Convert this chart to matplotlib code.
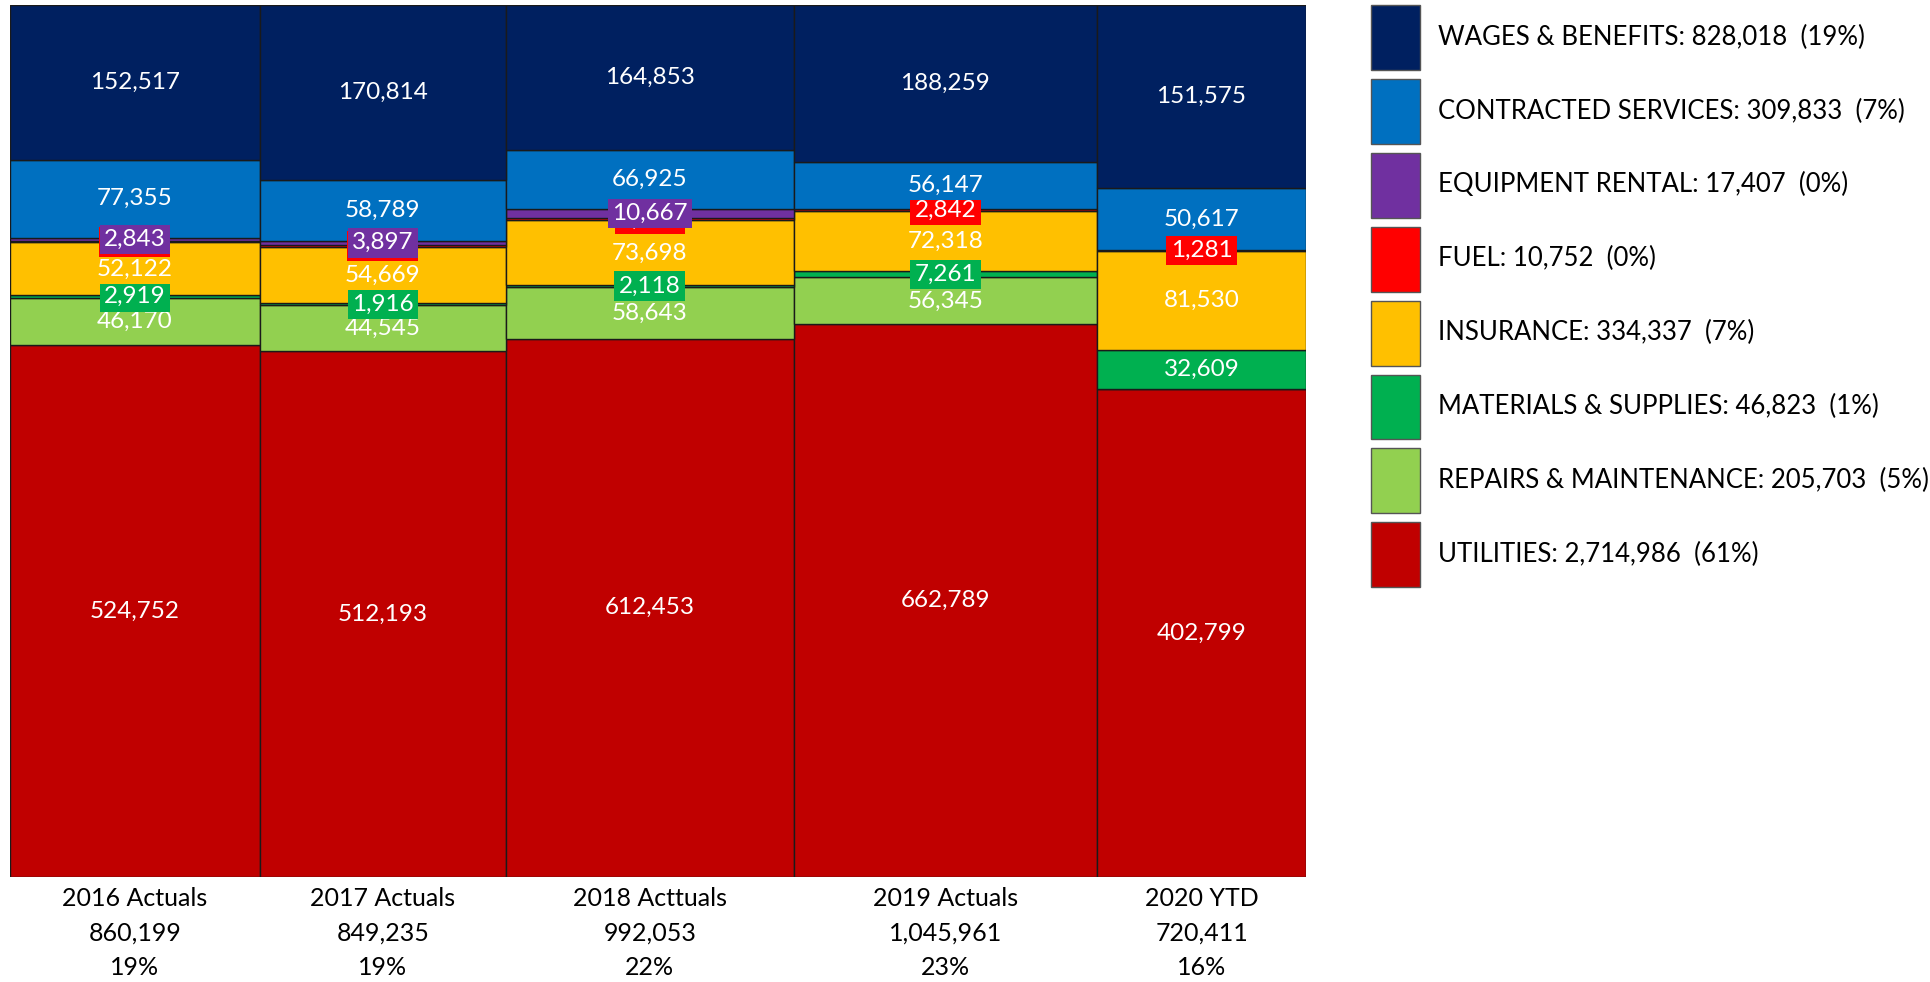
"""Marimekko chart of operating costs by year and category."""
import numpy as np
import matplotlib.pyplot as plt

years = ["2016 Actuals", "2017 Actuals", "2018 Acttuals", "2019 Actuals", "2020 YTD"]

# stacking order, bottom to top
categories = [
    "UTILITIES",
    "REPAIRS & MAINTENANCE",
    "MATERIALS & SUPPLIES",
    "INSURANCE",
    "FUEL",
    "EQUIPMENT RENTAL",
    "CONTRACTED SERVICES",
    "WAGES & BENEFITS",
]
utilities = [524752, 512193, 612453, 662789, 402799]
repairs = [46170, 44545, 58643, 56345, 0]
materials = [2919, 1916, 2118, 7261, 32609]
insurance = [52122, 54669, 73698, 72318, 81530]
fuel = [1521, 2412, 2696, 2842, 1281]
equipment = [2843, 3897, 10667, 0, 0]
contracted = [77355, 58789, 66925, 56147, 50617]
wages = [152517, 170814, 164853, 188259, 151575]

colors = ["#C00000", "#92D050", "#00B050", "#FFC000", "#FF0000", "#7030A0", "#0070C0", "#002060"]

plt.rcParams["font.family"] = ["Lato", "DejaVu Sans"]
FS = 17.5
TICK_FS = 18
LEG_FS = 18.5


def main() -> None:
    series = np.array([utilities, repairs, materials, insurance, fuel, equipment, contracted, wages], dtype=float)
    col_totals = series.sum(axis=0)
    grand = col_totals.sum()
    lefts = np.concatenate([[0], np.cumsum(col_totals)[:-1]])
    shares = series / col_totals

    fig = plt.figure(figsize=(19.31, 9.82), dpi=100)
    ax = fig.add_axes([10 / 1931, 105 / 982, 1296 / 1931, 872 / 982])

    bottoms = np.zeros(len(years))
    handles = []
    for i, (name, color) in enumerate(zip(categories, colors)):
        bars = ax.bar(lefts, shares[i], width=col_totals, bottom=bottoms, align="edge",
                      color=color, edgecolor="#1a1a1a", linewidth=1.0, zorder=2)
        handles.append(bars)
        for j in range(len(years)):
            if series[i, j] == 0:
                continue
            ax.text(lefts[j] + col_totals[j] / 2, bottoms[j] + shares[i, j] / 2,
                    f"{series[i, j]:,.0f}", ha="center", va="center", color="white", fontsize=FS,
                    zorder=10 + i,
                    bbox=dict(boxstyle="square,pad=0.18", facecolor=color, edgecolor="none"))
        bottoms += shares[i]

    ax.set_xlim(0, grand)
    ax.set_ylim(0, 1)
    ax.set_xticks(lefts + col_totals / 2,
                  [f"{y}\n{t:,.0f}\n{t / grand:.0%}" for y, t in zip(years, col_totals)])
    ax.tick_params(axis="x", length=0, pad=7, labelsize=TICK_FS)
    plt.setp(ax.get_xticklabels(), linespacing=1.62)
    ax.set_yticks([])
    for s in ax.spines.values():
        s.set_visible(False)

    cat_totals = series.sum(axis=1)
    labels = [f"{n}: {v:,.0f}  ({v / grand:.0%})" for n, v in zip(categories, cat_totals)]
    leg = fig.legend(handles[::-1], labels[::-1], loc="upper left",
                     bbox_to_anchor=(1371 / 1931, 1 - 5 / 982), frameon=False, fontsize=LEG_FS,
                     handlelength=1.9, handleheight=3.51, labelspacing=0.35,
                     handletextpad=0.7, borderpad=0, borderaxespad=0)
    for p in leg.get_patches():
        p.set_edgecolor("#555555")

    fig.savefig("out.png", dpi=100)


if __name__ == "__main__":
    main()
